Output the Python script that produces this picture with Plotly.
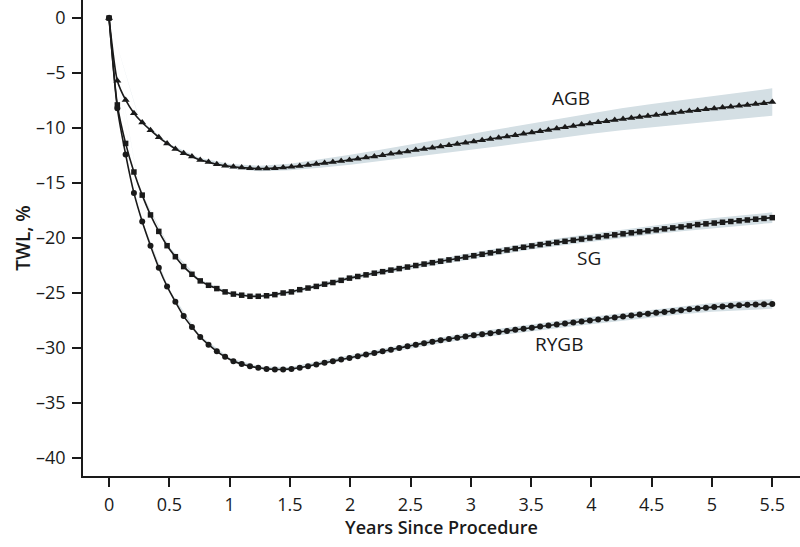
import numpy as np
import plotly.graph_objects as go

# ---- data: model estimates, 81 points from 0 to 5.5 years ----
years = [round(k * 5.5 / 80, 5) for k in range(81)]

agb = [0, -5.7, -7.45, -8.65, -9.5, -10.2, -10.85, -11.4, -11.9, -12.3,
       -12.6, -12.9, -13.1, -13.3, -13.42, -13.52, -13.6, -13.65, -13.68, -13.68,
       -13.65, -13.6, -13.53, -13.45, -13.37, -13.28, -13.19, -13.1, -13.0, -12.9,
       -12.8, -12.69, -12.58, -12.47, -12.35, -12.24, -12.13, -12.01, -11.9, -11.79,
       -11.67, -11.56, -11.45, -11.33, -11.22, -11.11, -10.99, -10.88, -10.77, -10.65,
       -10.53, -10.41, -10.29, -10.17, -10.05, -9.93, -9.81, -9.69, -9.58, -9.48,
       -9.38, -9.28, -9.18, -9.08, -8.99, -8.9, -8.81, -8.72, -8.63, -8.54,
       -8.46, -8.38, -8.3, -8.22, -8.14, -8.06, -7.98, -7.9, -7.82, -7.74, -7.64]

sg = [0, -7.9, -11.4, -14.0, -16.1, -17.9, -19.4, -20.7, -21.7, -22.6,
      -23.3, -23.9, -24.3, -24.6, -24.9, -25.1, -25.2, -25.3, -25.3, -25.25,
      -25.15, -25.0, -24.9, -24.7, -24.55, -24.4, -24.2, -24.05, -23.85, -23.65,
      -23.5, -23.35, -23.2, -23.06, -22.92, -22.78, -22.64, -22.5, -22.37, -22.24,
      -22.11, -21.99, -21.87, -21.74, -21.61, -21.48, -21.35, -21.22, -21.09, -20.96,
      -20.84, -20.72, -20.6, -20.5, -20.4, -20.3, -20.2, -20.1, -20.0, -19.9,
      -19.8, -19.71, -19.62, -19.53, -19.44, -19.35, -19.26, -19.17, -19.08, -18.99,
      -18.9, -18.78, -18.71, -18.64, -18.57, -18.5, -18.43, -18.36, -18.29, -18.22, -18.15]

rygb = [0, -8.2, -12.4, -15.9, -18.5, -20.7, -22.7, -24.4, -25.8, -27.1,
        -28.1, -29.0, -29.7, -30.3, -30.8, -31.2, -31.45, -31.65, -31.8, -31.9,
        -31.95, -31.95, -31.9, -31.8, -31.65, -31.5, -31.35, -31.2, -31.05, -30.9,
        -30.75, -30.6, -30.45, -30.3, -30.15, -30.0, -29.85, -29.7, -29.56, -29.43,
        -29.3, -29.18, -29.06, -28.95, -28.85, -28.75, -28.65, -28.55, -28.45, -28.35,
        -28.25, -28.15, -28.05, -27.95, -27.86, -27.77, -27.68, -27.59, -27.5, -27.41,
        -27.32, -27.23, -27.14, -27.05, -26.96, -26.88, -26.8, -26.72, -26.64, -26.56,
        -26.48, -26.41, -26.34, -26.28, -26.22, -26.17, -26.12, -26.08, -26.05, -26.02, -26.0]

# ---- confidence bands, every quarter year ----
band_years = [0, 0.25, 0.5, 0.75, 1.0, 1.25, 1.5, 1.75, 2.0, 2.25, 2.5, 2.75,
              3.0, 3.25, 3.5, 3.75, 4.0, 4.25, 4.5, 4.75, 5.0, 5.25, 5.5]
agb_band_mid = [0, -9.2, -11.55, -12.85, -13.47, -13.68, -13.55, -13.24, -12.89, -12.5,
                -12.08, -11.67, -11.26, -10.85, -10.44, -10.0, -9.57, -9.2, -8.86, -8.54,
                -8.24, -7.95, -7.64]
agb_band_half = [0, 0.05, 0.1, 0.15, 0.2, 0.25, 0.3, 0.38, 0.45, 0.52, 0.6, 0.66,
                 0.72, 0.78, 0.85, 0.9, 0.95, 1.0, 1.05, 1.1, 1.15, 1.2, 1.25]
sg_band_mid = [0, -15.5, -20.9, -23.85, -25.05, -25.3, -24.95, -24.3, -23.63, -23.1,
               -22.6, -22.11, -21.65, -21.18, -20.73, -20.34, -19.98, -19.62, -19.29, -18.96,
               -18.65, -18.4, -18.15]
sg_band_half = [0, 0.05, 0.08, 0.1, 0.12, 0.14, 0.16, 0.18, 0.2, 0.22, 0.24, 0.26,
                0.28, 0.3, 0.32, 0.34, 0.36, 0.38, 0.4, 0.42, 0.44, 0.46, 0.48]
rygb_band_mid = [0, -17.8, -24.8, -28.95, -31.0, -31.83, -31.9, -31.4, -30.85, -30.34,
                 -29.8, -29.3, -28.88, -28.52, -28.15, -27.82, -27.5, -27.18, -26.86, -26.56,
                 -26.3, -26.12, -26.0]
rygb_band_half = [0, 0.05, 0.08, 0.1, 0.12, 0.14, 0.16, 0.18, 0.2, 0.22, 0.24, 0.26,
                  0.28, 0.3, 0.32, 0.33, 0.34, 0.35, 0.36, 0.38, 0.4, 0.42, 0.44]

x_ticks = [0, 0.5, 1, 1.5, 2, 2.5, 3, 3.5, 4, 4.5, 5, 5.5]
x_tick_text = ["0", "0.5", "1", "1.5", "2", "2.5", "3", "3.5", "4", "4.5", "5", "5.5"]
y_ticks = [0, -5, -10, -15, -20, -25, -30, -35, -40]
y_tick_text = ["0", "–5", "–10", "–15", "–20", "–25", "–30", "–35", "–40"]

FONT = "Open Sans"
BAND = "rgb(212,223,228)"
INK = "#1a1a1a"

fig = go.Figure()

for mid, half in [(agb_band_mid, agb_band_half), (sg_band_mid, sg_band_half),
                  (rygb_band_mid, rygb_band_half)]:
    mid = np.array(mid)
    half = np.array(half)
    upper = mid + half
    lower = mid - half
    fig.add_trace(go.Scatter(
        x=band_years + band_years[::-1],
        y=list(upper) + list(lower[::-1]),
        fill="toself", fillcolor=BAND, line=dict(width=0),
        mode="lines", hoverinfo="skip", showlegend=False))

for name, vals, sym, size in [("AGB", agb, "triangle-up", 7),
                              ("SG", sg, "square", 5.5),
                              ("RYGB", rygb, "circle", 6)]:
    fig.add_trace(go.Scatter(
        x=years, y=vals, name=name, mode="lines+markers",
        line=dict(color=INK, width=1.6, shape="spline", smoothing=0.6),
        marker=dict(symbol=sym, size=size, color=INK, line=dict(width=0)),
        showlegend=False))

labels = [("AGB", 3.83, -7.3), ("SG", 3.98, -21.85), ("RYGB", 3.73, -29.6)]
for text, lx, ly in labels:
    fig.add_annotation(x=lx, y=ly, text=text, showarrow=False,
                       font=dict(family=FONT, size=19, color=INK))

# x-axis title placed just below the tick labels
fig.add_annotation(xref="paper", yref="paper", x=0.5, y=-0.108, yanchor="middle",
                   text="Years Since Procedure", showarrow=False,
                   font=dict(family=FONT, size=18, color=INK, weight=600))

axis_common = dict(showline=True, linecolor=INK, linewidth=1.5, ticks="outside",
                   ticklen=9, tickwidth=1.5, tickcolor=INK, showgrid=False,
                   zeroline=False, automargin=False,
                   tickfont=dict(family=FONT, size=18, color=INK))

fig.update_xaxes(range=[-0.216, 5.73], tickvals=x_ticks, ticktext=x_tick_text,
                 ticklabelstandoff=3, **axis_common)
fig.update_yaxes(range=[-41.64, 1.64], tickvals=y_ticks, ticktext=y_tick_text,
                 ticklabelstandoff=3,
                 title=dict(text="TWL, %", standoff=0,
                            font=dict(family=FONT, size=19, color=INK, weight=600)),
                 **axis_common)

fig.update_layout(width=800, height=547, margin=dict(l=83, r=0, t=0, b=71),
                  plot_bgcolor="white", paper_bgcolor="white",
                  font=dict(family=FONT, color=INK))

fig.write_html("out.html", config={"displayModeBar": False},
               post_script="document.body.style.margin='0';document.body.style.padding='0';")
